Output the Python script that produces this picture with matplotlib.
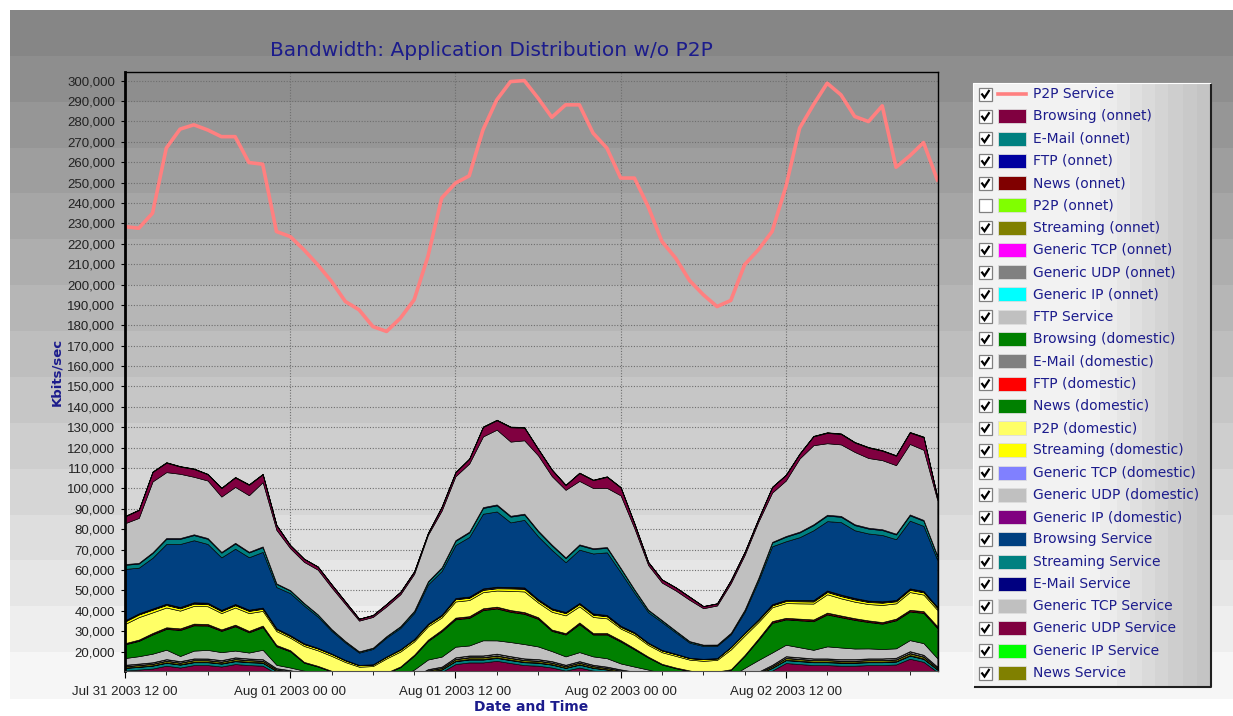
import numpy as np
import pandas as pd
import matplotlib
matplotlib.use("Agg")
import matplotlib.pyplot as plt
import matplotlib.dates as mdates
from matplotlib.patches import Rectangle
from matplotlib.ticker import FuncFormatter

W, H = 1233, 716

# hourly samples, Jul 31 2003 12:00 .. Aug 02 2003 23:00
times = pd.date_range("2003-07-31 12:00", periods=60, freq="h")

# P2P Service (line, Kbits/sec)
p2p_service = [228400, 227600, 235000, 266900, 276200, 278300, 275800, 272500, 272500, 259800,
               259000, 226000, 223500, 217000, 209700, 201500, 191700, 187600, 179400, 177000,
               183500, 192500, 213700, 242400, 249700, 253300, 275800, 290500, 299500, 300000,
               291400, 282000, 288100, 288100, 274200, 266900, 252200, 252200, 238200, 221100,
               212900, 202000, 195000, 189200, 192200, 209700, 217000, 226000, 248000, 276700,
               288100, 298700, 293000, 282400, 279900, 287600, 257500, 263100, 269600, 251300]

# stacked series, bottom to top (legend order)
browsing_onnet = [10700, 11200, 11700, 13100, 12200, 13400, 13400, 12700, 13900, 13400,
                  13100, 9300, 8500, 7400, 6300, 5000, 3700, 3000, 3000, 3700,
                  4400, 6300, 9000, 10000, 13900, 14700, 14700, 15500, 14400, 13400,
                  13100, 12200, 10700, 12200, 10700, 10000, 8900, 8000, 6900, 5600,
                  4900, 3700, 3000, 3000, 4300, 6300, 8000, 10700, 14400, 13900,
                  13400, 13400, 13100, 13100, 13400, 13400, 13700, 16500, 15000, 10000]
email_onnet = [1300, 1300, 1400, 1400, 1400, 1400, 1400, 1400, 1400, 1400,
               1400, 1200, 1100, 900, 700, 500, 400, 350, 350, 400,
               450, 700, 1100, 1200, 1400, 1400, 1400, 1400, 1400, 1400,
               1400, 1400, 1300, 1400, 1300, 1200, 1100, 1000, 800, 650,
               550, 400, 350, 350, 450, 700, 1000, 1300, 1400, 1400,
               1400, 1400, 1400, 1400, 1400, 1400, 1400, 1500, 1400, 1200]
ftp_onnet = [110, 120, 120, 130, 130, 140, 130, 130, 140, 130, 130, 100, 90, 80, 60, 50, 40, 30, 30, 40,
             50, 60, 90, 100, 140, 150, 150, 150, 140, 140, 130, 130, 110, 130, 110, 100, 90, 80, 70, 60,
             50, 40, 30, 30, 50, 60, 80, 110, 140, 140, 140, 140, 130, 130, 140, 140, 140, 160, 150, 100]
news_onnet = [60, 70, 60, 80, 70, 80, 70, 60, 80, 70, 70, 50, 50, 40, 30, 30, 20, 20, 20, 20,
              30, 40, 50, 60, 80, 80, 90, 90, 80, 80, 80, 70, 60, 70, 60, 60, 50, 40, 40, 30,
              30, 20, 20, 20, 30, 40, 50, 60, 80, 80, 80, 80, 70, 70, 80, 80, 80, 90, 80, 60]
streaming_onnet = [650, 700, 720, 760, 740, 780, 760, 740, 790, 770,
                   760, 600, 560, 450, 380, 300, 220, 180, 180, 220,
                   260, 380, 560, 620, 800, 840, 850, 880, 830, 790,
                   780, 740, 660, 740, 660, 620, 560, 500, 420, 340,
                   300, 220, 180, 180, 260, 380, 500, 660, 830, 800,
                   780, 780, 770, 770, 780, 780, 800, 930, 860, 620]
generic_tcp_onnet = [90, 100, 100, 110, 100, 110, 110, 100, 110, 100, 100, 80, 70, 60, 50, 40, 30, 30, 30, 30,
                     40, 50, 70, 80, 110, 120, 120, 120, 110, 110, 100, 100, 90, 100, 90, 80, 70, 60, 60, 50,
                     40, 30, 30, 30, 40, 50, 60, 90, 110, 110, 110, 110, 100, 100, 110, 110, 110, 130, 120, 80]
generic_udp_onnet = [600, 620, 640, 700, 660, 720, 720, 680, 740, 720,
                     700, 540, 500, 420, 350, 280, 210, 170, 170, 210,
                     240, 350, 520, 570, 740, 780, 780, 810, 770, 720,
                     700, 660, 600, 660, 600, 560, 500, 450, 380, 310,
                     280, 210, 170, 170, 240, 350, 450, 600, 760, 740,
                     720, 720, 700, 700, 720, 720, 730, 860, 790, 560]
generic_ip_onnet = [50, 50, 60, 60, 60, 60, 60, 50, 60, 60, 60, 40, 40, 30, 30, 20, 20, 10, 10, 20,
                    20, 30, 40, 40, 60, 60, 60, 70, 60, 60, 60, 60, 50, 60, 50, 50, 40, 40, 30, 30,
                    20, 20, 10, 10, 20, 30, 40, 50, 60, 60, 60, 60, 60, 60, 60, 60, 60, 70, 60, 40]
ftp_service = [3300, 3600, 4200, 4600, 2500, 3800, 4200, 3900, 3300, 2900,
               4600, 1600, 1300, 1300, 1600, 1600, 1600, 1600, 1600, 2500,
               2500, 3300, 4700, 4900, 5200, 4900, 7400, 6500, 6900, 7000,
               6200, 4900, 4100, 4400, 4100, 4100, 2900, 2500, 2500, 2500,
               1600, 1600, 1600, 1600, 2500, 4100, 5700, 6000, 5600, 4900,
               4200, 5900, 5700, 5200, 4900, 4600, 4600, 5400, 5700, 4100]
browsing_domestic = [6700, 7500, 9400, 10200, 12700, 12400, 11900, 10400, 11900, 9900,
                     11100, 9100, 7900, 3900, 3200, 2500, 2200, 1800, 1800, 2400,
                     4400, 6800, 9100, 12400, 13400, 13500, 14800, 15600, 14800, 14800,
                     13500, 9900, 10700, 13700, 10700, 11600, 10700, 8400, 5900, 4100,
                     4100, 4200, 3700, 4500, 3200, 5900, 9900, 14500, 12400, 13200,
                     14000, 15600, 14800, 14000, 12900, 12400, 13700, 14000, 14800, 14800]
email_domestic = [140, 150, 170, 180, 190, 190, 180, 170, 180, 170, 170, 140, 130, 90, 80, 70, 60, 50, 50, 60,
                  80, 110, 140, 170, 190, 190, 200, 210, 200, 200, 190, 150, 160, 190, 160, 170, 160, 130, 100, 80,
                  80, 80, 70, 80, 70, 100, 150, 200, 180, 190, 200, 210, 200, 190, 180, 180, 190, 190, 200, 200]
ftp_domestic = [350, 380, 450, 480, 500, 500, 480, 450, 480, 430, 460, 400, 360, 250, 200, 170, 150, 130, 130, 150,
                230, 320, 400, 480, 520, 520, 550, 560, 540, 540, 500, 400, 420, 500, 420, 450, 420, 360, 280, 200,
                200, 200, 180, 210, 160, 280, 420, 540, 480, 500, 520, 560, 540, 520, 500, 480, 520, 520, 540, 540]
news_domestic = [110, 120, 130, 140, 150, 150, 140, 130, 140, 130, 130, 110, 100, 70, 60, 50, 40, 40, 40, 50,
                 60, 90, 110, 130, 150, 150, 160, 170, 160, 160, 150, 120, 130, 150, 130, 130, 120, 100, 80, 60,
                 60, 60, 50, 60, 50, 80, 110, 160, 140, 150, 160, 170, 160, 150, 140, 140, 150, 150, 160, 160]
p2p_domestic = [9400, 11000, 10100, 9700, 8700, 8700, 8700, 8000, 8400, 8700,
                7200, 6800, 6100, 7800, 7600, 7300, 6200, 5200, 5500, 6900,
                7300, 6500, 6500, 6000, 7900, 7900, 7900, 7900, 9400, 10100,
                7200, 8700, 8700, 7900, 7900, 7200, 5700, 6500, 5700, 5700,
                5700, 5300, 6100, 5700, 9700, 9500, 8000, 6800, 7200, 7500,
                7800, 9000, 8400, 8100, 8000, 8400, 7500, 8700, 8100, 8000]
streaming_domestic = [1200, 1300, 1300, 1200, 1100, 1100, 1100, 1000, 1100, 1100,
                      1000, 900, 800, 900, 900, 900, 800, 700, 700, 800,
                      900, 900, 900, 900, 1100, 1100, 1100, 1100, 1200, 1300,
                      1000, 1100, 1100, 1100, 1100, 1000, 800, 900, 800, 800,
                      800, 700, 800, 700, 1100, 1100, 1000, 900, 1000, 1000,
                      1000, 1100, 1100, 1100, 1000, 1100, 1000, 1100, 1100, 1000]
generic_tcp_domestic = [150, 140, 150, 170, 170, 170, 160, 150, 160, 150, 150, 120, 120, 100, 80, 60, 50, 40, 40, 50,
                        60, 70, 110, 120, 150, 160, 190, 190, 170, 180, 170, 160, 140, 150, 160, 170, 150, 110, 90, 80,
                        60, 50, 40, 40, 40, 60, 100, 150, 160, 170, 190, 190, 190, 180, 180, 170, 160, 180, 170, 130]
generic_udp_domestic = [300, 280, 300, 340, 350, 350, 330, 310, 320, 310, 320, 250, 240, 220, 180, 140, 120, 100, 100, 120,
                        130, 160, 230, 260, 300, 320, 380, 390, 350, 360, 340, 320, 280, 300, 330, 340, 300, 230, 180, 160,
                        130, 110, 100, 100, 100, 130, 210, 300, 320, 340, 380, 380, 390, 360, 360, 350, 330, 370, 350, 260]
generic_ip_domestic = [150, 140, 150, 160, 170, 170, 160, 150, 160, 150, 150, 130, 120, 110, 90, 70, 60, 50, 50, 60,
                       70, 80, 110, 130, 150, 150, 190, 190, 170, 170, 160, 150, 140, 150, 160, 160, 150, 120, 100, 80,
                       70, 60, 50, 50, 60, 70, 100, 150, 150, 160, 180, 180, 190, 180, 180, 170, 160, 180, 170, 130]
browsing_service = [25200, 22400, 24900, 29300, 30900, 30400, 28800, 25700, 27100, 25700,
                    27300, 20200, 20600, 18500, 15300, 11100, 8500, 6000, 7500, 9200,
                    10400, 12700, 19200, 21400, 26000, 29200, 36600, 36900, 31700, 33100,
                    30800, 28600, 24400, 26100, 29400, 30700, 26200, 19300, 14900, 13600,
                    10400, 7400, 6300, 6000, 6100, 10200, 18700, 28400, 28700, 30800,
                    34200, 34000, 35500, 33200, 32900, 32500, 29800, 33200, 31900, 23000]
streaming_service = [2000, 2000, 2300, 2500, 2500, 2500, 2500, 2300, 2500, 2300,
                     2300, 1500, 1200, 1000, 900, 700, 600, 500, 500, 600,
                     700, 900, 1300, 1500, 2000, 2200, 2800, 3000, 2800, 2600,
                     2400, 2200, 2000, 2200, 2200, 2200, 1800, 1400, 1000, 800,
                     700, 600, 500, 500, 600, 900, 1300, 1800, 2200, 2300,
                     2500, 2700, 2600, 2500, 2400, 2400, 2300, 2600, 2500, 1800]
email_service = [350, 380, 400, 420, 420, 420, 420, 400, 420, 400,
                 400, 300, 280, 250, 220, 200, 180, 150, 150, 180,
                 200, 250, 300, 350, 400, 420, 450, 450, 450, 440,
                 430, 420, 400, 410, 400, 400, 350, 300, 250, 220,
                 200, 180, 150, 150, 200, 250, 300, 350, 400, 420,
                 440, 450, 450, 440, 430, 430, 420, 450, 440, 350]
generic_tcp_service = [20050, 22020, 34700, 32280, 31480, 28180, 28180, 27100, 27380, 27700,
                       31500, 26200, 20520, 20150, 21880, 20400, 18120, 15050, 15050, 14520,
                       15600, 18050, 22700, 27750, 31300, 33380, 34650, 36650, 36350, 35960,
                       36870, 33580, 33100, 31090, 29500, 29000, 35550, 29900, 21850, 18380,
                       19700, 20220, 17850, 19150, 24300, 26750, 27500, 24150, 27200, 35880,
                       38760, 35050, 35050, 35460, 34170, 33870, 33580, 34550, 34360, 27150]
generic_udp_service = [3350, 3830, 4600, 4600, 3530, 3820, 3050, 4120, 4600, 5080,
                       3830, 2300, 1450, 1450, 1450, 1450, 1170, 890, 890, 1170,
                       1170, 1170, 880, 1820, 1900, 2280, 4600, 4600, 7030, 6160,
                       3060, 3060, 2300, 3830, 3830, 5380, 3830, 2300, 1450, 1450,
                       1450, 1450, 980, 980, 1450, 1450, 1450, 2680, 2680, 2300,
                       4310, 5080, 5080, 4600, 5080, 4600, 4600, 5560, 6140, 1450]
generic_ip_service = [150, 160, 180, 180, 160, 170, 150, 170, 180, 190, 160, 120, 90, 90, 90, 90, 80, 70, 70, 80,
                      80, 80, 70, 110, 120, 130, 180, 180, 220, 200, 140, 140, 120, 160, 160, 190, 160, 120, 90, 90,
                      90, 90, 70, 70, 90, 90, 90, 130, 130, 120, 170, 190, 190, 180, 190, 180, 180, 200, 210, 90]
news_service = [100, 110, 120, 120, 110, 110, 100, 110, 120, 130, 110, 80, 60, 60, 60, 60, 50, 40, 40, 50,
                50, 50, 50, 70, 80, 90, 120, 120, 150, 140, 100, 100, 80, 110, 110, 130, 110, 80, 60, 60,
                60, 60, 50, 50, 60, 60, 60, 90, 90, 80, 120, 130, 130, 120, 130, 120, 120, 140, 150, 60]

# legend: (label, colour, checked)
legend_items = [
    ("P2P Service", "#ff8080", True),
    ("Browsing (onnet)", "#800040", True),
    ("E-Mail (onnet)", "#008080", True),
    ("FTP (onnet)", "#0000a0", True),
    ("News (onnet)", "#800000", True),
    ("P2P (onnet)", "#80ff00", False),
    ("Streaming (onnet)", "#808000", True),
    ("Generic TCP (onnet)", "#ff00ff", True),
    ("Generic UDP (onnet)", "#808080", True),
    ("Generic IP (onnet)", "#00ffff", True),
    ("FTP Service", "#c0c0c0", True),
    ("Browsing (domestic)", "#008000", True),
    ("E-Mail (domestic)", "#808080", True),
    ("FTP (domestic)", "#ff0000", True),
    ("News (domestic)", "#008000", True),
    ("P2P (domestic)", "#ffff66", True),
    ("Streaming (domestic)", "#ffff00", True),
    ("Generic TCP (domestic)", "#8080ff", True),
    ("Generic UDP (domestic)", "#c0c0c0", True),
    ("Generic IP (domestic)", "#800080", True),
    ("Browsing Service", "#004080", True),
    ("Streaming Service", "#008080", True),
    ("E-Mail Service", "#000080", True),
    ("Generic TCP Service", "#c0c0c0", True),
    ("Generic UDP Service", "#800040", True),
    ("Generic IP Service", "#00ff00", True),
    ("News Service", "#808000", True),
]

stack_series = {
    "Browsing (onnet)": browsing_onnet, "E-Mail (onnet)": email_onnet,
    "FTP (onnet)": ftp_onnet, "News (onnet)": news_onnet,
    "Streaming (onnet)": streaming_onnet, "Generic TCP (onnet)": generic_tcp_onnet,
    "Generic UDP (onnet)": generic_udp_onnet, "Generic IP (onnet)": generic_ip_onnet,
    "FTP Service": ftp_service, "Browsing (domestic)": browsing_domestic,
    "E-Mail (domestic)": email_domestic, "FTP (domestic)": ftp_domestic,
    "News (domestic)": news_domestic, "P2P (domestic)": p2p_domestic,
    "Streaming (domestic)": streaming_domestic, "Generic TCP (domestic)": generic_tcp_domestic,
    "Generic UDP (domestic)": generic_udp_domestic, "Generic IP (domestic)": generic_ip_domestic,
    "Browsing Service": browsing_service, "Streaming Service": streaming_service,
    "E-Mail Service": email_service, "Generic TCP Service": generic_tcp_service,
    "Generic UDP Service": generic_udp_service, "Generic IP Service": generic_ip_service,
    "News Service": news_service,
}

navy = "#1c1c8c"

fig = plt.figure(figsize=(W / 100, H / 100), dpi=100)
fig.patch.set_facecolor("white")

# banded grey background
bg = fig.add_axes([0, 0, 1, 1], zorder=-5)
bg.set_xlim(0, W)
bg.set_ylim(H, 0)
bg.axis("off")
band_h = (698 - 10) / 15
for i in range(15):
    g = (134 + 8 * i) / 255
    bg.add_patch(Rectangle((10, 10 + i * band_h), W - 10, band_h + 0.5,
                           facecolor=(g, g, g), edgecolor="none"))

# main plot
ax = fig.add_axes([125 / W, 1 - 671 / H, 813 / W, 599 / H])
ax.set_facecolor("none")
ax.set_axisbelow(True)

colors = {lab: c for lab, c, _ in legend_items}
labels = list(stack_series.keys())
ax.stackplot(times, *[stack_series[k] for k in labels],
             colors=[colors[k] for k in labels], edgecolor="black", linewidth=0.45)
ax.plot(times, p2p_service, color="#ff8080", lw=2.6, solid_joinstyle="round")

ax.set_xlim(times[0], times[-1] + pd.Timedelta(minutes=3))
ax.set_ylim(10500, 304200)
ax.set_yticks(np.arange(20000, 300001, 10000))
ax.yaxis.set_major_formatter(FuncFormatter(lambda v, p: f"{int(v):,}"))
ax.xaxis.set_major_locator(mdates.HourLocator(byhour=[0, 12]))
ax.xaxis.set_minor_locator(mdates.HourLocator(byhour=range(0, 24, 3)))
ax.xaxis.set_major_formatter(mdates.DateFormatter("%b %d %Y %H %M"))

ax.grid(True, which="major", linestyle=(0, (1, 1.5)), color="#6e6e6e", lw=0.8)
for lab in ax.get_xticklabels() + ax.get_yticklabels():
    lab.set_fontfamily("Liberation Sans")
ax.tick_params(axis="both", which="both", labelsize=9.5, labelcolor="#222222", color="black")
ax.tick_params(axis="y", length=3, pad=4)
ax.tick_params(axis="x", which="major", length=5, pad=6)
ax.tick_params(axis="x", which="minor", length=3)
ax.spines["left"].set_linewidth(2)
ax.spines["top"].set_linewidth(1)
ax.spines["right"].set_linewidth(1)
ax.spines["bottom"].set_linewidth(0.8)
ax.spines["bottom"].set_color("#505050")

fig.text(491 / W, 1 - 50 / H, "Bandwidth: Application Distribution w/o P2P",
         ha="center", va="center", color=navy, fontsize=14.5)
fig.text(57 / W, 1 - 372 / H, "Kbits/sec", rotation=90, ha="center", va="center",
         color=navy, fontsize=9.5, fontweight="bold")
fig.text(531 / W, 1 - 707 / H, "Date and Time", ha="center", va="center",
         color=navy, fontsize=10, fontweight="bold")

# legend panel
lax = fig.add_axes([0, 0, 1, 1], zorder=5)
lax.set_xlim(0, W)
lax.set_ylim(H, 0)
lax.axis("off")
bx0, bx1, by0, by1 = 973, 1210, 83, 686
edges = [bx0, 1100, 1117, 1130, 1142, 1155, 1168, 1183, 1197, bx1]
shades = ["#f2f2f2", "#ececec", "#e6e6e6", "#e0e0e0", "#dadada",
          "#d4d4d4", "#cecece", "#c9c9c9", "#c4c4c4"]
for x0, x1, c in zip(edges[:-1], edges[1:], shades):
    lax.add_patch(Rectangle((x0, by0), x1 - x0, by1 - by0, facecolor=c, edgecolor="none"))
lax.plot([bx0, bx0, bx1], [by1, by0, by0], color="#ffffff", lw=0.8)
lax.plot([bx1 + 1, bx1 + 1, bx0 + 2], [by0 + 2, by1 + 1, by1 + 1], color="#202020", lw=1.5)

row0, row_step = 94, (673 - 94) / 26
for i, (lab, col, checked) in enumerate(legend_items):
    yc = row0 + i * row_step
    lax.add_patch(Rectangle((979, yc - 6.5), 13, 13, facecolor="white",
                            edgecolor="#808080", lw=0.9))
    if checked:
        lax.plot([981.5, 984.5, 989.5], [yc - 0.5, yc + 3.5, yc - 4], color="black",
                 lw=1.6, solid_capstyle="butt", solid_joinstyle="miter")
    if i == 0:
        lax.plot([998, 1026], [yc, yc], color=col, lw=2.6)
    else:
        lax.add_patch(Rectangle((998, yc - 7), 28, 14, facecolor=col, edgecolor="#dddddd", lw=0.6))
    lax.text(1033, yc, lab, ha="left", va="center", color=navy, fontsize=10)

fig.savefig("out.png", dpi=100)
